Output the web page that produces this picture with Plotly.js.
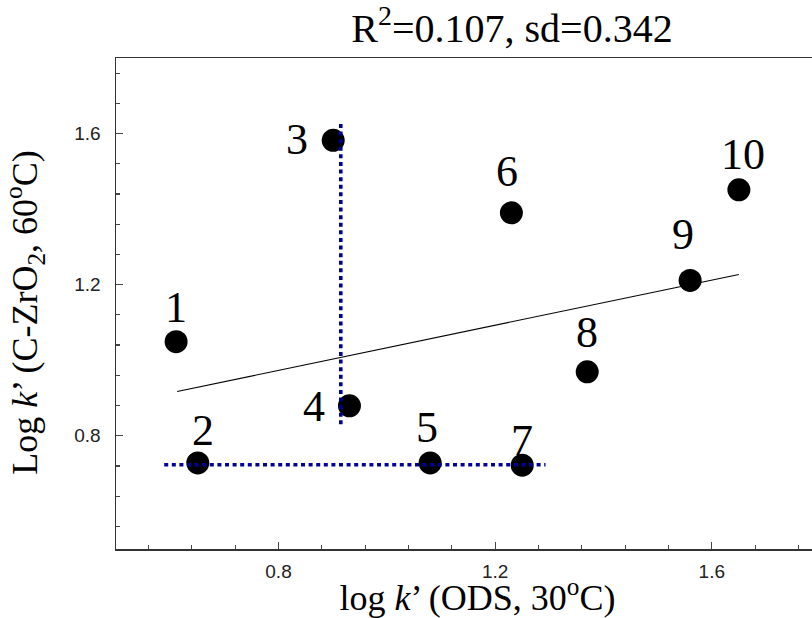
<!DOCTYPE html>
<html>
<head>
<meta charset="utf-8">
<script src="https://cdn.plot.ly/plotly-3.0.1.min.js"></script>
<style>html,body{margin:0;padding:0;background:#fff;overflow:hidden;}</style>
</head>
<body>
<div id="chart" style="width:812px;height:618px;"></div>
<script>
// ---- data ----
const compoundLabels = ['1','2','3','4','5','6','7','8','9','10'];
const logkODS = [0.611, 0.651, 0.901, 0.931, 1.080, 1.230, 1.250, 1.370, 1.560, 1.650];
const logkZrO2 = [1.049, 0.728, 1.582, 0.879, 0.728, 1.390, 0.722, 0.969, 1.211, 1.451];
const fitX = [0.613, 1.650];
const fitY = [0.917, 1.227];
const hGuideX = [0.589, 1.293];
const hGuideY = [0.723, 0.723];
const vGuideX = [0.915, 0.915];
const vGuideY = [0.830, 1.628];
const titleText = 'R<sup>2</sup>=0.107, sd=0.342';
const xTitle = 'log <i>k</i>’ (ODS, 30<sup>o</sup>C)';
const yTitle = 'Log <i>k</i>’ (C-ZrO<sub>2</sub>, 60<sup>o</sup>C)';

// label offsets in pixels (style)
const labelShift = [[0,34],[5,32],[-36,1],[-35,-1],[-3,35],[-4,41],[0,25],[0,39],[-7,46],[4,35]];

const serif = '"Liberation Serif", "Times New Roman", serif';
const sans = '"Liberation Sans", Arial, sans-serif';
const blue = '#000099';

const traces = [
  {x: fitX, y: fitY, mode: 'lines', line: {color: '#000', width: 1.1}, hoverinfo: 'skip', showlegend: false},
  {x: logkODS, y: logkZrO2, mode: 'markers', marker: {color: '#000', size: 23}, text: compoundLabels, showlegend: false},
  {x: hGuideX, y: hGuideY, mode: 'lines', line: {color: blue, width: 3.6, dash: '4px,3.6px'}, hoverinfo: 'skip', showlegend: false},
  {x: vGuideX, y: vGuideY, mode: 'lines', line: {color: blue, width: 3.6, dash: '4px,3.6px'}, hoverinfo: 'skip', showlegend: false}
];

const annotations = compoundLabels.map((t, i) => ({
  x: logkODS[i], y: logkZrO2[i], xref: 'x', yref: 'y', text: t, showarrow: false,
  xshift: labelShift[i][0], yshift: labelShift[i][1],
  font: {family: serif, size: 44, color: '#000'}, xanchor: 'center', yanchor: 'middle'
}));

const axisCommon = {
  showgrid: false, zeroline: false, showline: true, linecolor: '#333', linewidth: 1.5,
  ticks: 'inside', ticklen: 7, tickwidth: 1.2, tickcolor: '#444',
  tickfont: {family: sans, size: 19, color: '#222'},
  dtick: 0.4, tick0: 0, tickformat: '.1f',
  minor: {dtick: 0.08, tick0: 0, ticks: 'inside', ticklen: 4, tickwidth: 1.2, tickcolor: '#444', showgrid: false}
};

const layout = {
  width: 812, height: 618,
  margin: {l: 116, r: 0, t: 58, b: 69},
  paper_bgcolor: '#fff', plot_bgcolor: '#fff',
  showlegend: false,
  title: {text: titleText, font: {family: serif, size: 40, color: '#000'},
          xref: 'container', x: 0.6305, xanchor: 'center', yref: 'container', y: 0.955, yanchor: 'middle'},
  xaxis: Object.assign({}, axisCommon, {
    range: [0.5, 1.785], mirror: true, ticklabelstandoff: 5,
    title: {text: '&nbsp;&nbsp;&nbsp;' + xTitle, font: {family: serif, size: 36, color: '#000'}, standoff: 0}
  }),
  yaxis: Object.assign({}, axisCommon, {
    range: [0.5, 1.8], mirror: false, ticklabelstandoff: 10,
    title: {text: yTitle + '&nbsp;&nbsp;', font: {family: serif, size: 36, color: '#000'}, standoff: 30}
  }),
  annotations: annotations
};

Plotly.newPlot('chart', traces, layout, {displayModeBar: false, staticPlot: true});
</script>
</body>
</html>
